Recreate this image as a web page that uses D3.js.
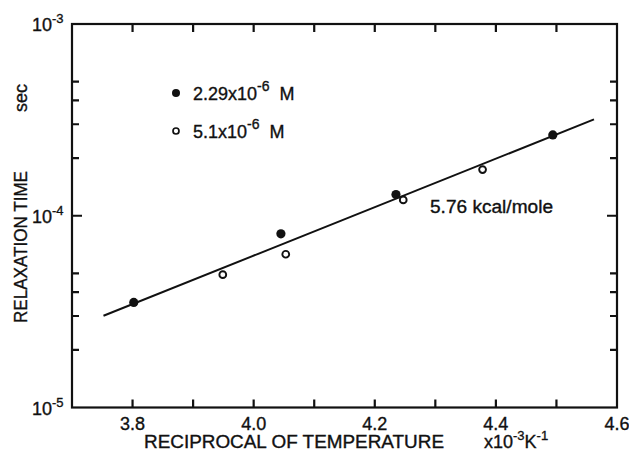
<!DOCTYPE html>
<html>
<head>
<meta charset="utf-8">
<script src="https://cdn.jsdelivr.net/npm/d3@7"></script>
<style>
  body { margin: 0; background: #fff; }
  svg { display: block; }
  text { font-family: "Liberation Sans", Arial, sans-serif; fill: #111; stroke: #111; stroke-width: 0.35; }
</style>
</head>
<body>
<div id="chart"></div>
<script>
// reciprocal temperature (x10^-3 K^-1) and relaxation time (sec)
const filledX = [3.802, 4.045, 4.235, 4.494];
const filledY = [3.53e-5, 8.05e-5, 1.29e-4, 2.64e-4];
const openX = [3.949, 4.053, 4.247, 4.378];
const openY = [4.93e-5, 6.3e-5, 1.21e-4, 1.74e-4];
const fitX = [3.752, 4.562];
const fitY = [3.01e-5, 3.18e-4];
const xTickLabels = ['3.8', '4.0', '4.2', '4.4', '4.6'];
const yDecades = [-5, -4, -3];
const legendLabels = [['2.29x10', '-6', '  M'], ['5.1x10', '-6', '  M']];

const width = 629;
const height = 455;
const margin = {top: 24, right: 12, bottom: 48, left: 72};

const svg = d3.select('#chart').append('svg')
    .attr('width', width)
    .attr('height', height);

const x = d3.scaleLinear()
    .domain([3.7, 4.6])
    .range([margin.left, width - margin.right]);

const y = d3.scaleLog()
    .domain([1e-5, 1e-3])
    .range([height - margin.bottom + 0.5, margin.top]);

// ticks every 0.1 on x, minor 2..5 on y
const xTicks = d3.range(38, 46).map(d => d / 10);
const yMinor = [];
[-5, -4].forEach(e => [2, 3, 4, 5].forEach(m => yMinor.push(m * Math.pow(10, e))));

const x0 = x.range()[0], x1 = x.range()[1];
const y0 = y.range()[0], y1 = y.range()[1];

// frame
svg.append('rect')
    .attr('x', x0).attr('y', y1)
    .attr('width', x1 - x0).attr('height', y0 - y1)
    .attr('fill', 'none')
    .attr('stroke', '#111')
    .attr('stroke-width', 2.2);

// inward ticks on all four sides, drawn as one path
const tickPath = d3.path();
xTicks.forEach(v => {
    tickPath.moveTo(x(v), y0); tickPath.lineTo(x(v), y0 - 8);
    tickPath.moveTo(x(v), y1); tickPath.lineTo(x(v), y1 + 8);
});
yMinor.forEach(v => {
    tickPath.moveTo(x0, y(v)); tickPath.lineTo(x0 + 7, y(v));
    tickPath.moveTo(x1, y(v)); tickPath.lineTo(x1 - 7, y(v));
});
tickPath.moveTo(x0, y(1e-4)); tickPath.lineTo(x0 + 10, y(1e-4));
tickPath.moveTo(x1, y(1e-4)); tickPath.lineTo(x1 - 10, y(1e-4));
svg.append('path')
    .attr('d', tickPath.toString())
    .attr('fill', 'none')
    .attr('stroke', '#111')
    .attr('stroke-width', 2.2);

// x tick labels
svg.append('g').selectAll('text')
    .data(xTickLabels)
    .join('text')
    .attr('x', d => x(+d))
    .attr('y', y0 + 22)
    .attr('text-anchor', 'middle')
    .attr('font-size', 18)
    .text(d => d);

// y tick labels 10^e
const yLab = svg.append('g').selectAll('text')
    .data(yDecades)
    .join('text')
    .attr('x', 32)
    .attr('y', d => y(Math.pow(10, d)) + 7)
    .attr('font-size', 18);
yLab.append('tspan').text('10');
yLab.append('tspan')
    .attr('font-size', 13)
    .attr('dy', -8)
    .text(d => String(d));

// axis titles
svg.append('text')
    .attr('x', 294).attr('y', 448)
    .attr('text-anchor', 'middle')
    .attr('font-size', 18)
    .attr('textLength', 300)
    .attr('lengthAdjust', 'spacingAndGlyphs')
    .text('RECIPROCAL OF  TEMPERATURE');

const unit = svg.append('text')
    .attr('x', 484).attr('y', 448)
    .attr('font-size', 18);
unit.append('tspan').text('x10');
unit.append('tspan').attr('font-size', 13).attr('dy', -8).text('-3');
unit.append('tspan').attr('dy', 8).text('K');
unit.append('tspan').attr('font-size', 13).attr('dy', -8).text('-1');

svg.append('text')
    .attr('transform', 'translate(27, 247) rotate(-90)')
    .attr('text-anchor', 'middle')
    .attr('font-size', 18)
    .attr('textLength', 152)
    .attr('lengthAdjust', 'spacingAndGlyphs')
    .text('RELAXATION  TIME');

svg.append('text')
    .attr('transform', 'translate(27, 98) rotate(-90)')
    .attr('text-anchor', 'middle')
    .attr('font-size', 18)
    .text('sec');

// fitted line
const fit = fitX.map((v, i) => [v, fitY[i]]);
svg.append('path')
    .datum(fit)
    .attr('d', d3.line().x(d => x(d[0])).y(d => y(d[1])))
    .attr('fill', 'none')
    .attr('stroke', '#111')
    .attr('stroke-width', 2);

svg.append('text')
    .attr('x', 430).attr('y', 213)
    .attr('font-size', 18)
    .attr('textLength', 123)
    .attr('lengthAdjust', 'spacingAndGlyphs')
    .text('5.76 kcal/mole');

// data points
svg.append('g').selectAll('circle')
    .data(filledX.map((v, i) => [v, filledY[i]]))
    .join('circle')
    .attr('cx', d => x(d[0])).attr('cy', d => y(d[1]))
    .attr('r', 4.6)
    .attr('fill', '#111');

svg.append('g').selectAll('circle')
    .data(openX.map((v, i) => [v, openY[i]]))
    .join('circle')
    .attr('cx', d => x(d[0])).attr('cy', d => y(d[1]))
    .attr('r', 3.4)
    .attr('fill', '#fff')
    .attr('stroke', '#111')
    .attr('stroke-width', 1.9);

// legend
svg.append('circle')
    .attr('cx', 176).attr('cy', 93).attr('r', 4)
    .attr('fill', '#111');
svg.append('circle')
    .attr('cx', 176).attr('cy', 131).attr('r', 3)
    .attr('fill', '#fff').attr('stroke', '#111').attr('stroke-width', 1.7);

const leg = svg.append('g').selectAll('text')
    .data(legendLabels)
    .join('text')
    .attr('x', 193)
    .attr('y', (d, i) => 100 + i * 38)
    .attr('font-size', 18)
    .attr('xml:space', 'preserve');
leg.append('tspan').text(d => d[0]);
leg.append('tspan').attr('font-size', 14).attr('dy', -9).text(d => d[1]);
leg.append('tspan').attr('dy', 9).text(d => d[2]);
</script>
</body>
</html>
